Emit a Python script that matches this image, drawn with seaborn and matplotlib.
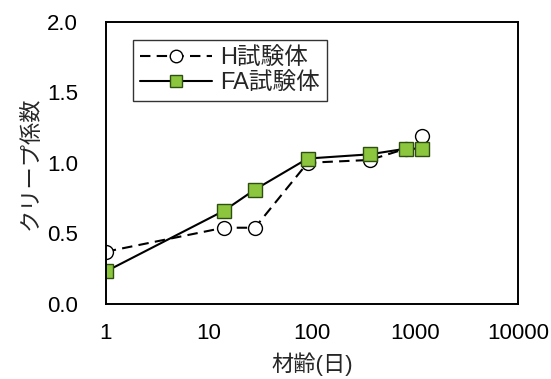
import matplotlib
matplotlib.use('Agg')
import matplotlib.pyplot as plt
import seaborn as sns
import pandas as pd

# data
days_h = [1, 14, 28, 91, 365, 820, 1180]
coef_h = [0.37, 0.54, 0.54, 1.00, 1.02, 1.10, 1.19]
days_fa = [1, 14, 28, 91, 365, 820, 1180]
coef_fa = [0.23, 0.66, 0.81, 1.03, 1.06, 1.10, 1.10]
x_ticks = [1, 10, 100, 1000, 10000]
x_labels = ['1', '10', '100', '1000', '10000']
y_ticks = [0.0, 0.5, 1.0, 1.5, 2.0]

sns.set_style('white')
plt.rcParams['font.family'] = ['Liberation Sans', 'Noto Sans CJK JP']

fig = plt.figure(figsize=(5.51, 3.79), dpi=100)
ax = fig.add_axes([0.192, 0.198, 0.748, 0.745])

df_h = pd.DataFrame({'day': days_h, 'coef': coef_h})
df_fa = pd.DataFrame({'day': days_fa, 'coef': coef_fa})

sns.lineplot(data=df_h, x='day', y='coef', ax=ax, color='black', lw=1.5,
             linestyle=(0, (5, 3)), marker='o', markersize=10,
             markerfacecolor='white', markeredgecolor='black',
             markeredgewidth=1.0, label='H試験体')
sns.lineplot(data=df_fa, x='day', y='coef', ax=ax, color='black', lw=1.5,
             marker='s', markersize=10, markerfacecolor='#8cc63f',
             markeredgecolor='#2f4f10', markeredgewidth=1.0,
             label='FA試験体')

ax.set_xscale('log')
ax.set_xlim(1, 10000)
ax.set_ylim(0, 2.0)
ax.set_xticks(x_ticks)
ax.set_xticklabels(x_labels)
ax.minorticks_off()
ax.set_yticks(y_ticks)
ax.set_yticklabels([f'{v:.1f}' for v in y_ticks])
ax.tick_params(axis='both', direction='in', length=6, width=1,
               labelsize=16, colors='black')
ax.tick_params(axis='x', pad=14)
ax.tick_params(axis='y', pad=20)

for s in ax.spines.values():
    s.set_linewidth(1.4)
    s.set_color('black')

ax.set_xlabel('材齢(日)', fontsize=16, labelpad=6)
ax.set_ylabel('クリープ係数', fontsize=16, labelpad=4)

leg = ax.legend(loc='upper left', bbox_to_anchor=(0.065, 0.935),
                fontsize=17, frameon=True, fancybox=False, edgecolor='black',
                handlelength=3.05, handletextpad=0.35, borderpad=0.3,
                labelspacing=0.12, borderaxespad=0, markerscale=0.9)
leg.get_frame().set_linewidth(1.0)

fig.savefig('out.png', dpi=100)
